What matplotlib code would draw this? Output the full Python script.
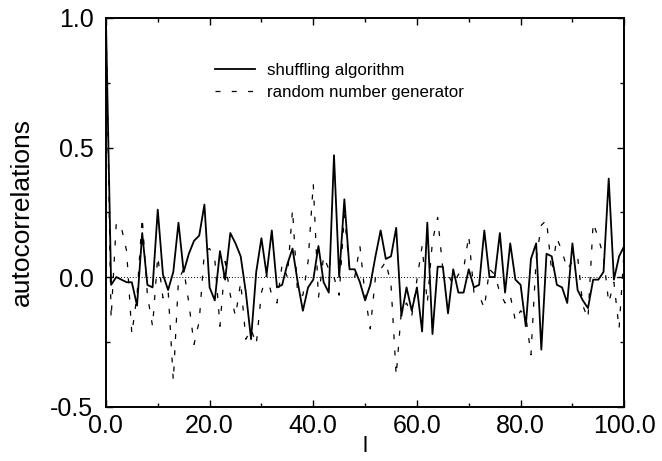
import numpy as np
import matplotlib
matplotlib.use("Agg")
import matplotlib.pyplot as plt
from matplotlib.ticker import MultipleLocator, FormatStrFormatter

plt.rcParams['font.family'] = ['Liberation Sans', 'DejaVu Sans']
plt.rcParams['axes.unicode_minus'] = False

# lag values 0..100
lags = list(range(101))

# autocorrelations
shuffling = [
    1.00, -0.03, 0.00, -0.01, -0.02, -0.02, -0.11, 0.17, -0.03, -0.04,
    0.26, 0.01, -0.05, 0.02, 0.21, 0.02, 0.09, 0.14, 0.16, 0.28,
    -0.04, -0.09, 0.10, -0.01, 0.17, 0.13, 0.08, -0.06, -0.24, 0.02,
    0.15, 0.01, 0.18, -0.04, -0.03, 0.05, 0.11, -0.02, -0.13, -0.04,
    -0.01, 0.12, -0.02, -0.06, 0.47, 0.00, 0.30, 0.03, 0.03, -0.02,
    -0.09, -0.03, 0.08, 0.18, 0.07, 0.08, 0.19, -0.15, -0.04, -0.13,
    -0.04, -0.21, 0.21, -0.22, 0.04, 0.04, -0.14, 0.03, -0.06, -0.06,
    0.03, -0.04, -0.03, 0.18, 0.00, 0.00, 0.17, -0.06, 0.13, -0.01,
    -0.03, -0.19, 0.07, 0.13, -0.28, 0.09, 0.08, -0.03, -0.04, -0.10,
    0.13, -0.05, -0.09, -0.12, -0.01, -0.01, 0.02, 0.38, -0.01, 0.08,
    0.12,
]

rng_gen = [
    1.00, -0.16, 0.21, 0.19, 0.10, -0.22, -0.07, 0.23, -0.07, -0.19,
    0.08, -0.08, -0.05, -0.40, -0.01, 0.03, -0.10, -0.26, -0.17, 0.10,
    0.11, 0.07, -0.19, 0.06, -0.07, -0.15, -0.02, -0.24, -0.20, -0.26,
    -0.06, 0.01, -0.07, -0.10, 0.05, 0.00, 0.26, -0.07, -0.07, 0.06,
    0.36, -0.08, 0.08, 0.03, 0.00, -0.07, 0.24, 0.03, 0.00, 0.12,
    -0.07, -0.20, 0.00, 0.03, 0.06, -0.03, -0.38, -0.13, -0.10, -0.15,
    -0.01, 0.12, -0.10, 0.14, 0.23, 0.03, 0.01, -0.03, 0.01, 0.03,
    0.16, -0.06, -0.07, -0.12, 0.03, 0.01, -0.06, -0.10, -0.07, -0.17,
    -0.13, -0.15, -0.30, 0.07, 0.20, 0.22, 0.02, 0.15, 0.10, 0.03,
    0.06, 0.08, -0.11, -0.16, 0.21, 0.15, 0.08, -0.10, -0.02, -0.20,
    0.11,
]

fig = plt.figure(figsize=(6.62, 4.61), dpi=100)
ax = fig.add_axes([0.160, 0.118, 0.783, 0.843])

ax.plot(lags, shuffling, color='black', lw=1.3, label='shuffling algorithm')
ax.plot(lags, rng_gen, color='black', lw=0.9, dashes=(4, 9),
        label='random number generator')
ax.axhline(0, color='black', lw=0.7, ls=(0, (1, 2)))

ax.set_xlim(0, 100)
ax.set_ylim(-0.5, 1.0)
ax.xaxis.set_major_locator(MultipleLocator(20))
ax.xaxis.set_minor_locator(MultipleLocator(10))
ax.yaxis.set_major_locator(MultipleLocator(0.5))
ax.yaxis.set_minor_locator(MultipleLocator(0.25))
ax.xaxis.set_major_formatter(FormatStrFormatter('%.1f'))
ax.yaxis.set_major_formatter(FormatStrFormatter('%.1f'))
ax.tick_params(which='both', direction='in', top=True, right=True,
               labelsize=18, width=1)
ax.tick_params(which='major', length=5)
ax.tick_params(axis='y', which='major', pad=9)
ax.tick_params(axis='x', which='major', pad=5)
ax.tick_params(which='minor', length=3)
for s in ax.spines.values():
    s.set_linewidth(1.4)

ax.set_xlabel('l', fontsize=16, labelpad=-1)
ax.set_ylabel('autocorrelations', fontsize=19, labelpad=12)

ax.legend(loc='upper left', bbox_to_anchor=(0.21, 0.885), frameon=False,
          fontsize=12.2, handlelength=2.4, handletextpad=0.7,
          labelspacing=0.45, borderpad=0, borderaxespad=0)

fig.savefig('out.png', dpi=100)
